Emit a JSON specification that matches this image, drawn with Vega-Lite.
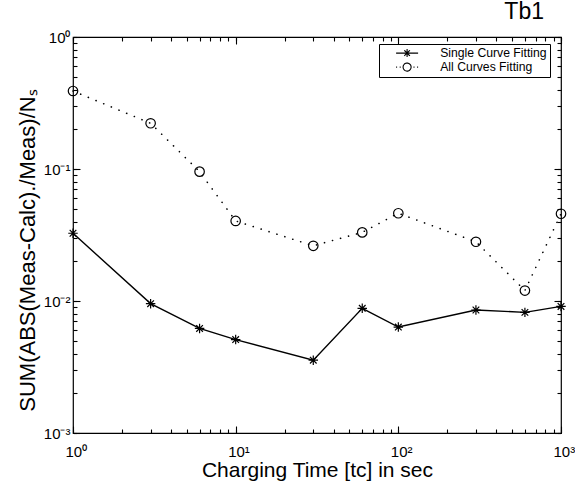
{
  "$schema": "https://vega.github.io/schema/vega-lite/v6.json",
  "autosize": "none",
  "width": 488,
  "height": 396,
  "padding": {"left": 73, "top": 37, "right": 14, "bottom": 52},
  "background": "white",
  "title": {"text": "Tb1", "anchor": "end", "frame": "group", "dx": -17, "fontSize": 23, "fontWeight": "normal", "font": "Liberation Sans", "color": "black", "offset": 6},
  "config": {
    "view": {"stroke": "black", "strokeWidth": 1.2, "fill": null},
    "font": "Liberation Sans",
    "axis": {"grid": false, "domain": false, "ticks": true, "tickColor": "black", "tickOpacity": 1, "labelColor": "black", "titleColor": "black", "labelFont": "Liberation Sans", "titleFont": "Liberation Sans", "labelFontSize": 15, "titleFontSize": 21, "titleFontWeight": "normal", "tickWidth": 1.1}
  },
  "data": {"values": [
    {"t": 1, "v": 0.0326, "series": "Single Curve Fitting"},
    {"t": 3, "v": 0.00955, "series": "Single Curve Fitting"},
    {"t": 6, "v": 0.0062, "series": "Single Curve Fitting"},
    {"t": 10, "v": 0.0051, "series": "Single Curve Fitting"},
    {"t": 30, "v": 0.00356, "series": "Single Curve Fitting"},
    {"t": 60, "v": 0.0088, "series": "Single Curve Fitting"},
    {"t": 100, "v": 0.00635, "series": "Single Curve Fitting"},
    {"t": 300, "v": 0.00855, "series": "Single Curve Fitting"},
    {"t": 600, "v": 0.0082, "series": "Single Curve Fitting"},
    {"t": 1000, "v": 0.0091, "series": "Single Curve Fitting"},
    {"t": 1, "v": 0.39, "series": "All Curves Fitting"},
    {"t": 3, "v": 0.222, "series": "All Curves Fitting"},
    {"t": 6, "v": 0.0955, "series": "All Curves Fitting"},
    {"t": 10, "v": 0.0404, "series": "All Curves Fitting"},
    {"t": 30, "v": 0.0262, "series": "All Curves Fitting"},
    {"t": 60, "v": 0.0331, "series": "All Curves Fitting"},
    {"t": 100, "v": 0.0462, "series": "All Curves Fitting"},
    {"t": 300, "v": 0.0281, "series": "All Curves Fitting"},
    {"t": 600, "v": 0.012, "series": "All Curves Fitting"},
    {"t": 1000, "v": 0.0458, "series": "All Curves Fitting"}
  ]},
  "layer": [
    {
      "transform": [{"filter": "datum.series == 'Single Curve Fitting'"}],
      "mark": {"type": "line", "color": "black", "strokeWidth": 1.4, "clip": false},
      "encoding": {
        "x": {"field": "t", "type": "quantitative",
          "scale": {"type": "log", "domain": [1, 1000], "nice": false},
          "axis": {"orient": "bottom", "title": "Charging Time [tc] in sec", "titlePadding": 0, "zindex": 2,
            "ticks": true, "tickColor": "black", "tickOpacity": 1, "tickWidth": 1.1,
            "tickCount": 30,
            "labelExpr": "datum.value == 1 ? '10⁰' : datum.value == 10 ? '10¹' : datum.value == 100 ? '10²' : datum.value == 1000 ? '10³' : ''",
            "tickSize": 4, "offset": -4,
            "labelAlign": "left", "labelOffset": -8,
            "labelPadding": 11, "labelFlush": false, "labelOverlap": false}},
        "y": {"field": "v", "type": "quantitative",
          "scale": {"type": "log", "domain": [0.001, 1], "nice": false},
          "axis": {"orient": "left", "title": "SUM(ABS(Meas-Calc)./Meas)/Nₛ", "titlePadding": 4, "titleFontSize": 22, "titleY": 213, "zindex": 2,
            "ticks": true, "tickColor": "black", "tickOpacity": 1, "tickWidth": 1.1,
            "tickCount": 30,
            "labelExpr": "datum.value < 0.0015 ? '10⁻³' : abs(datum.value - 0.01) < 0.0001 ? '10⁻²' : abs(datum.value - 0.1) < 0.001 ? '10⁻¹' : abs(datum.value - 1) < 0.001 ? '10⁰' : ''",
            "tickSize": 4, "offset": -4,
            "labelPadding": 3, "labelFlush": false, "labelOverlap": false}}
      }
    },
    {
      "transform": [{"filter": "datum.series == 'All Curves Fitting'"}],
      "mark": {"type": "line", "color": "black", "strokeWidth": 1.6, "strokeCap": "round", "strokeDash": [0.1, 8.2], "clip": false},
      "encoding": {
        "x": {"field": "t", "type": "quantitative", "scale": {"type": "log", "domain": [1, 1000], "nice": false},
          "axis": {"orient": "bottom", "title": null, "labels": false, "zindex": 2, "ticks": true, "tickColor": "black", "tickOpacity": 1, "tickWidth": 1.1, "tickCount": 3, "tickSize": 7, "offset": -7}},
        "y": {"field": "v", "type": "quantitative", "scale": {"type": "log", "domain": [0.001, 1], "nice": false},
          "axis": {"orient": "left", "title": null, "labels": false, "zindex": 2, "ticks": true, "tickColor": "black", "tickOpacity": 1, "tickWidth": 1.1, "tickCount": 3, "tickSize": 7, "offset": -7}}
      }
    },
    {
      "mark": {"type": "point", "filled": false, "stroke": "black", "strokeWidth": 1.2, "opacity": 1, "size": 90, "clip": false},
      "encoding": {
        "x": {"field": "t", "type": "quantitative", "scale": {"type": "log", "domain": [1, 1000], "nice": false},
          "axis": {"orient": "top", "title": null, "labels": false, "zindex": 2, "ticks": true, "tickColor": "black", "tickOpacity": 1, "tickWidth": 1.1, "tickCount": 3, "tickSize": 7, "offset": -7}},
        "y": {"field": "v", "type": "quantitative", "scale": {"type": "log", "domain": [0.001, 1], "nice": false},
          "axis": {"orient": "right", "title": null, "labels": false, "zindex": 2, "ticks": true, "tickColor": "black", "tickOpacity": 1, "tickWidth": 1.1, "tickCount": 3, "tickSize": 7, "offset": -7}},
        "shape": {"field": "series", "type": "nominal",
          "scale": {"domain": ["Single Curve Fitting", "All Curves Fitting"],
            "range": ["M0,-1L0,1M-1,0L1,0M-0.7,-0.7L0.7,0.7M-0.7,0.7L0.7,-0.7", "circle"]},
          "legend": null}
      }
    },
    {
      "transform": [{"filter": "false"}],
      "mark": {"type": "point", "filled": false, "stroke": "black", "strokeWidth": 1.1, "opacity": 1},
      "encoding": {
        "x": {"field": "t", "type": "quantitative", "scale": {"type": "log", "domain": [1, 1000], "nice": false}, "axis": null},
        "y": {"field": "v", "type": "quantitative", "scale": {"type": "log", "domain": [0.001, 1], "nice": false}, "axis": null},
        "strokeDash": {"field": "series", "type": "nominal",
          "scale": {"domain": ["Single Curve Fitting", "All Curves Fitting"],
            "range": [[1, 0], [1, 0]]},
          "legend": {"title": null, "orient": "none", "legendX": 306, "legendY": 7, "padding": 3,
            "strokeColor": "black", "fillColor": "white", "cornerRadius": 0,
            "labelFont": "Liberation Sans", "labelFontSize": 12.2, "labelColor": "black",
            "symbolSize": 64, "symbolStrokeWidth": 1.1, "symbolStrokeColor": "black", "symbolFillColor": "transparent",
            "symbolOffset": 19, "labelOffset": 27, "rowPadding": 0,
            "symbolType": "M-2.75,0L2.75,0M0,-1L0,1M-1,0L1,0M-0.7,-0.7L0.7,0.7M-0.7,0.7L0.7,-0.7"}
        },
        "shape": {"field": "series", "type": "nominal",
          "scale": {"domain": ["Single Curve Fitting", "All Curves Fitting"],
            "range": ["M-2.75,0L2.75,0M0,-1L0,1M-1,0L1,0M-0.7,-0.7L0.7,0.7M-0.7,0.7L0.7,-0.7", "M-2.75,0L-2.5,0M-1.85,0L-1.6,0M1,0A1,1 0 1,1 -1,0A1,1 0 1,1 1,0M1.6,0L1.85,0M2.5,0L2.75,0"]}}
      }
    },
    {
      "mark": {"type": "point", "opacity": 0},
      "encoding": {
        "x": {"field": "t", "type": "quantitative", "scale": {"type": "log", "domain": [1, 1000], "nice": false},
          "axis": {"orient": "top", "title": null, "labels": false, "zindex": 2, "ticks": true, "tickColor": "black", "tickOpacity": 1, "tickWidth": 1.1, "tickCount": 30, "tickSize": 4, "offset": -4}},
        "y": {"field": "v", "type": "quantitative", "scale": {"type": "log", "domain": [0.001, 1], "nice": false},
          "axis": {"orient": "right", "title": null, "labels": false, "zindex": 2, "ticks": true, "tickColor": "black", "tickOpacity": 1, "tickWidth": 1.1, "tickCount": 30, "tickSize": 4, "offset": -4}}
      }
    }
  ],
  "resolve": {"axis": {"x": "independent", "y": "independent"}, "scale": {"shape": "independent", "strokeDash": "independent"}}
}
